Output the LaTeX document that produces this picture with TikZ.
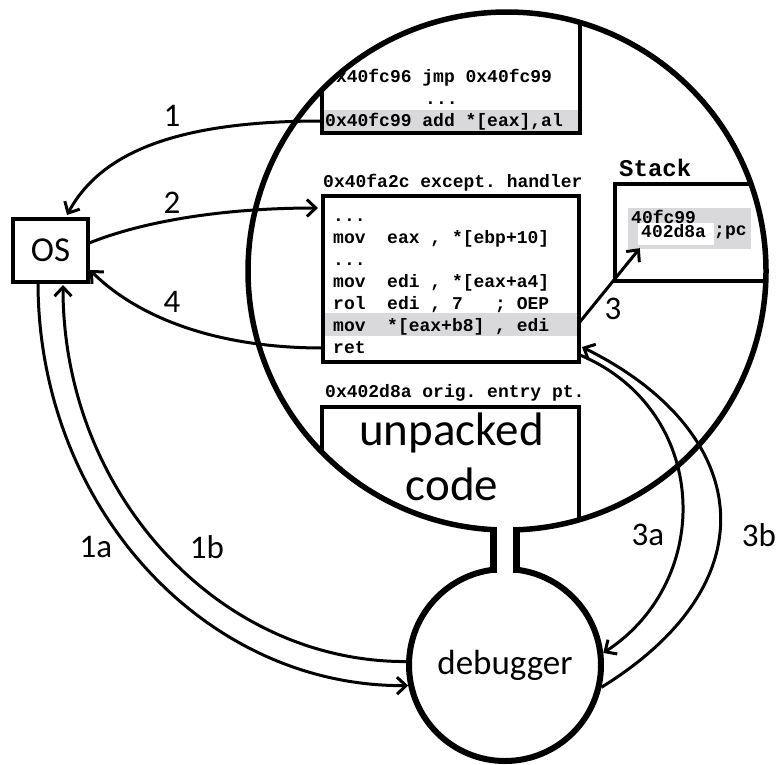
\documentclass[tikz,border=0pt]{standalone}
\usepackage{fontspec}
\setmonofont{Liberation Mono}
\newfontfamily\calfont{Carlito}
\usetikzlibrary{arrows.meta,calc}
\definecolor{hlgrey}{RGB}{217,217,219}
\begin{document}
\begin{tikzpicture}[x=1pt,y=-1pt,
  codetxt/.style={font=\ttfamily\bfseries\frenchspacing\fontsize{18}{22}\selectfont, anchor=base west, inner sep=0pt},
  lbl/.style={font=\calfont\fontsize{33}{36}\selectfont, inner sep=0pt},
  bigtxt/.style={font=\calfont\fontsize{47}{50}\selectfont, anchor=base, inner sep=0pt},
  cbox/.style={draw, line width=3.2pt, inner sep=0pt, outer sep=0pt},
  arr/.style={line width=3pt, -{Straight Barb[length=9pt,width=17pt]}},
  ringst/.style={draw, circle, inner sep=0pt, line width=5.5pt}]
\useasboundingbox (0,0) rectangle (778,764);

\begin{scope}
  \clip (507,271) circle[radius=259pt];
  % jmp box
  \fill[hlgrey] (322,110) rectangle (580,131);
  \node[cbox, minimum width=258pt, minimum height=173pt] (jmpbox) at (451,46.5) {};
  \node[codetxt] at (325,82) {0x40fc96 jmp 0x40fc99};
  \node[codetxt] at (425,104) {...};
  \node[codetxt] at (325,126) {0x40fc99 add *[eax],al};
  % handler
  \node[codetxt] at (323,187) {0x40fa2c except. handler};
  \fill[hlgrey] (323,313) rectangle (579,336);
  \node[cbox, minimum width=256pt, minimum height=166pt] (handler) at (451,279) {};
  \node[codetxt] at (333,221) {...};
  \node[codetxt] at (333,243) {mov\ \ eax , *[ebp+10]};
  \node[codetxt] at (333,265) {...};
  \node[codetxt] at (333,287) {mov\ \ edi , *[eax+a4]};
  \node[codetxt] at (333,309) {rol\ \ edi , 7\ \ \ ; OEP};
  \node[codetxt] at (333,331) {mov\ \ *[eax+b8] , edi};
  \node[codetxt] at (333,353) {ret};
  % stack
  \node[codetxt, font=\ttfamily\bfseries\fontsize{24}{26}\selectfont] at (619,176) {Stack};
  \node[cbox, minimum width=185pt, minimum height=97pt] (stack) at (707.5,232.5) {};
  \fill[hlgrey] (628,208) rectangle (751,249);
  \node[fill=white, inner sep=0pt, minimum width=76pt, minimum height=22pt] (pcslot) at (676,234) {};
  \node[codetxt] at (631,223) {40fc99};
  \node[codetxt] at (641,237) {402d8a};
  \node[codetxt] at (714,235) {;pc};
  % unpacked code
  \node[codetxt] at (325,397) {0x402d8a orig. entry pt.};
  \node[cbox, minimum width=257pt, minimum height=230pt] (unpacked) at (450.5,522) {};
  \node[bigtxt] at (451.5,445) {unpacked};
  \node[bigtxt] at (452,500) {code};
\end{scope}

\node[ringst, minimum size=518pt] (ring) at (507,271) {};
\node[ringst, line width=6pt, minimum size=192pt, font=\calfont\fontsize{35}{40}\selectfont] (debugger) at (505,665) {debugger};
% neck
\fill[white] (496.5,522) rectangle (513.5,578);
\draw[line width=6.5pt] (493.5,526.5) -- (493.5,573);
\draw[line width=6.5pt] (516.5,526.5) -- (516.5,573);

\node[cbox, minimum width=75pt, minimum height=63pt, font=\calfont\fontsize{35}{40}\selectfont] (os) at (50.5,250.5) {OS};

% arrows
\draw[arr] ($(jmpbox.south west)+(0,-12)$) .. controls (182,121) and (102,150) .. ($(os.north)+(16.5,-4)$);
\draw[arr] ($(os.east)+(0,-7)$) .. controls (138,223) and (217,208) .. ($(handler.north west)+(-5,12)$);
\draw[arr] ($(handler.south west)+(0,-14)$) .. controls (203,348) and (130,310) .. ($(os.south east)+(2,-12)$);
\draw[arr] ($(handler.north east)+(0,127)$) -- ($(pcslot.south west)+(2,3)$);
\draw[arr] ($(os.south west)+(25,0)$) .. controls (38,505) and (203,687) .. (debugger.192);
\draw[arr] (debugger.178) .. controls (217,662) and (63,492) .. ($(os.south)+(12.5,3)$);
\draw[arr] ($(handler.south east)+(1,-7)$) .. controls (710,410) and (715,580) .. (debugger.7);
\draw[arr] (debugger.-13) .. controls (775,580) and (750,430) .. ($(handler.south east)+(3,-15)$);

% labels
\node[lbl] (l1) at (172,116) {1};
\node[lbl] (l2) at (172,203) {2};
\node[lbl] (l4) at (172,302) {4};
\node[lbl] (l3) at (613,309) {3};
\node[lbl] (l1a) at (96,547) {1a};
\node[lbl] (l1b) at (207,547) {1b};
\node[lbl] (l3a) at (648,535) {3a};
\node[lbl] (l3b) at (759,535) {3b};
\end{tikzpicture}
\end{document}
